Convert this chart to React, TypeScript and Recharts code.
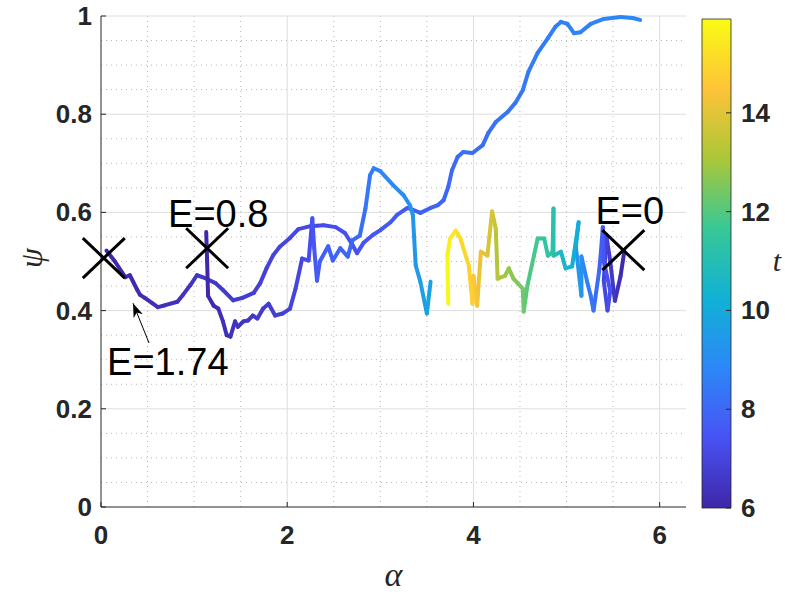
import React from 'react';
import {Bar, BarChart, ComposedChart, Label, Line, ReferenceLine, Scatter, XAxis, YAxis} from 'recharts';

const T_MIN = 6;
const T_MAX = 15.9;

// trajectory that starts at E=1.74
const alphaA = [0.06, 0.15, 0.26, 0.31, 0.39, 0.42, 0.47, 0.55, 0.61, 0.69, 0.82, 0.88, 0.96, 1.03, 1.12, 1.23, 1.31, 1.42, 1.52, 1.64, 1.71, 1.78, 1.85, 1.92, 2.03, 2.12, 2.25, 2.39, 2.52, 2.62, 2.7, 2.75, 2.82, 2.92, 3.0, 3.11, 3.18, 3.29, 3.35, 3.43, 3.54, 3.62, 3.68, 3.73, 3.77, 3.83, 3.89, 3.99, 4.1, 4.16, 4.24, 4.37, 4.45, 4.53, 4.59, 4.69, 4.8, 4.88, 4.94, 5.01, 5.08, 5.15, 5.26, 5.4, 5.58, 5.71, 5.79];
const psiA = [0.522, 0.5, 0.468, 0.472, 0.442, 0.432, 0.426, 0.415, 0.407, 0.411, 0.418, 0.432, 0.452, 0.472, 0.466, 0.456, 0.442, 0.421, 0.426, 0.436, 0.456, 0.487, 0.513, 0.53, 0.548, 0.566, 0.572, 0.574, 0.57, 0.558, 0.534, 0.517, 0.538, 0.554, 0.564, 0.58, 0.595, 0.609, 0.605, 0.599, 0.609, 0.615, 0.625, 0.652, 0.686, 0.713, 0.723, 0.721, 0.737, 0.762, 0.784, 0.805, 0.823, 0.849, 0.886, 0.925, 0.955, 0.978, 0.988, 0.984, 0.965, 0.967, 0.984, 0.994, 0.998, 0.996, 0.992];
const tA = [6.0, 6.05, 6.1, 6.12, 6.15, 6.17, 6.2, 6.25, 6.28, 6.32, 6.38, 6.42, 6.46, 6.5, 6.55, 6.6, 6.65, 6.7, 6.75, 6.8, 6.85, 6.9, 6.95, 7.0, 7.05, 7.1, 7.15, 7.2, 7.25, 7.3, 7.35, 7.4, 7.45, 7.5, 7.55, 7.6, 7.65, 7.7, 7.75, 7.8, 7.85, 7.9, 7.95, 8.0, 8.05, 8.1, 8.13, 8.17, 8.2, 8.25, 8.3, 8.35, 8.4, 8.45, 8.5, 8.55, 8.6, 8.63, 8.65, 8.67, 8.69, 8.71, 8.73, 8.76, 8.8, 8.83, 8.85];

// trajectory that starts at E=0.8
const alphaB = [1.13, 1.14, 1.15, 1.21, 1.26, 1.31, 1.35, 1.39, 1.44, 1.47, 1.53, 1.58, 1.63, 1.68, 1.74, 1.8, 1.87, 1.95, 2.03, 2.09, 2.16, 2.23, 2.27, 2.29, 2.32, 2.35, 2.44, 2.49, 2.57, 2.65, 2.7, 2.78, 2.84, 2.89, 2.93, 3.0, 3.14, 3.25, 3.32, 3.35, 3.38, 3.43, 3.5, 3.54];
const psiB = [0.56, 0.5, 0.43, 0.41, 0.404, 0.378, 0.35, 0.347, 0.378, 0.367, 0.378, 0.38, 0.39, 0.384, 0.404, 0.414, 0.39, 0.394, 0.404, 0.445, 0.506, 0.502, 0.588, 0.527, 0.461, 0.5, 0.531, 0.502, 0.527, 0.51, 0.543, 0.553, 0.608, 0.676, 0.69, 0.684, 0.655, 0.635, 0.614, 0.594, 0.492, 0.459, 0.394, 0.459];
const tB = [6.0, 6.05, 6.1, 6.15, 6.2, 6.25, 6.3, 6.35, 6.4, 6.45, 6.5, 6.55, 6.6, 6.65, 6.7, 6.75, 6.8, 6.85, 6.9, 7.0, 7.1, 7.2, 7.4, 7.5, 7.6, 7.7, 7.8, 7.85, 7.9, 7.95, 8.0, 8.1, 8.3, 8.5, 8.6, 8.7, 8.9, 9.0, 9.2, 9.3, 9.45, 9.55, 9.7, 9.8];

// trajectory that starts at E=0
const alphaC = [5.62, 5.58, 5.52, 5.5, 5.47, 5.43, 5.4, 5.44, 5.47, 5.4, 5.39, 5.37, 5.35, 5.29, 5.26, 5.22, 5.16, 5.16, 5.1, 5.13, 5.06, 4.99, 4.94, 4.86, 4.86, 4.85, 4.8, 4.76, 4.69, 4.65, 4.58, 4.54, 4.53, 4.43, 4.38, 4.34, 4.26, 4.24, 4.2, 4.15, 4.08, 4.04, 4.0, 3.99, 3.95, 3.86, 3.81, 3.75, 3.72, 3.73];
const psiC = [0.52, 0.47, 0.42, 0.45, 0.5, 0.55, 0.46, 0.4, 0.44, 0.5, 0.57, 0.52, 0.48, 0.4, 0.43, 0.46, 0.51, 0.43, 0.53, 0.58, 0.49, 0.486, 0.52, 0.512, 0.608, 0.52, 0.512, 0.547, 0.547, 0.512, 0.451, 0.398, 0.445, 0.465, 0.486, 0.471, 0.465, 0.567, 0.602, 0.512, 0.52, 0.41, 0.471, 0.414, 0.492, 0.547, 0.563, 0.547, 0.512, 0.414];
const tC = [6.0, 6.2, 6.4, 6.5, 6.6, 6.8, 7.0, 7.2, 7.3, 7.4, 7.6, 7.7, 7.9, 8.3, 8.45, 8.6, 8.9, 9.2, 9.6, 10.0, 10.3, 10.5, 10.7, 10.9, 11.1, 11.2, 11.4, 11.5, 11.7, 11.8, 12.0, 12.2, 12.4, 12.6, 12.8, 12.9, 13.1, 13.4, 13.7, 13.9, 14.1, 14.3, 14.5, 14.7, 14.9, 15.1, 15.3, 15.5, 15.7, 15.9];

const markerAlpha = [0.03, 1.14, 5.61];
const markerPsi = [0.507, 0.527, 0.523];

const noteText = ['E=0.8', 'E=0', 'E=1.74'];
const noteAlpha = [0.72, 5.31, 0.065];
const notePsi = [0.57, 0.576, 0.269];

const arrowAlpha = [0.516, 0.344];
const arrowPsi = [0.334, 0.415];

const xTicks = [0, 2, 4, 6];
const yTicks = [0, 0.2, 0.4, 0.6, 0.8, 1];
const xMinor = [0.5, 1, 1.5, 2.5, 3, 3.5, 4.5, 5, 5.5];
const yMinor = [0.05, 0.1, 0.15, 0.25, 0.3, 0.35, 0.45, 0.5, 0.55, 0.65, 0.7, 0.75, 0.85, 0.9, 0.95];
const cbTicks = [6, 8, 10, 12, 14];

const PARULA = ['#3E26A8', '#4852F4', '#2D87F7', '#11B1D6', '#37C896', '#ABC739', '#FEC338', '#F9FB15'];
const AXIS = '#262626';
const FONT = '"Liberation Sans", Arial, Helvetica, sans-serif';
const SERIF = '"Liberation Serif", "DejaVu Serif", serif';

const hex = (c: string) => [1, 3, 5].map((i) => parseInt(c.slice(i, i + 2), 16));

const parula = (t: number) => {
    const u = Math.max(0, Math.min(1, (t - T_MIN) / (T_MAX - T_MIN))) * (PARULA.length - 1);
    const i = Math.min(PARULA.length - 2, Math.floor(u));
    const f = u - i;
    const a = hex(PARULA[i]);
    const b = hex(PARULA[i + 1]);
    const m = a.map((v, k) => Math.round(v + (b[k] - v) * f));
    return `rgb(${m[0]},${m[1]},${m[2]})`;
};

const segments = (name: string, al: number[], ps: number[], ts: number[]) =>
    al.slice(1).map((_, i) => ({
        key: `${name}${i}`,
        color: parula((ts[i] + ts[i + 1]) / 2),
        data: [
            {a: al[i], p: ps[i]},
            {a: al[i + 1], p: ps[i + 1]},
        ],
    }));

const allSegments = [
    ...segments('a', alphaA, psiA, tA),
    ...segments('b', alphaB, psiB, tB),
    ...segments('c', alphaC, psiC, tC),
];

const markers = markerAlpha.map((a, i) => ({a, p: markerPsi[i]}));
const notes = noteText.map((label, i) => ({label, a: noteAlpha[i], p: notePsi[i]}));
const arrow = arrowAlpha.map((a, i) => ({a, p: arrowPsi[i]}));

const XTick = ({x, y, payload}: any) => (
    <g>
        <line x1={x} x2={x} y1={y} y2={y - 5} stroke={AXIS}/>
        <text x={x} y={y + 37} textAnchor="middle" fontFamily={FONT} fontWeight="bold" fontSize={26} fill={AXIS}>
            {payload.value}
        </text>
    </g>
);

const YTick = ({x, y, payload}: any) => (
    <g>
        <line x1={x} x2={x + 5} y1={y} y2={y} stroke={AXIS}/>
        <text x={x - 9} y={y + 9} textAnchor="end" fontFamily={FONT} fontWeight="bold" fontSize={26} fill={AXIS}>
            {payload.value}
        </text>
    </g>
);

const CbTick = ({x, y, payload}: any) => (
    <g>
        <line x1={x - 5} x2={x} y1={y} y2={y} stroke={AXIS}/>
        <text x={x + 10} y={y + 9} textAnchor="start" fontFamily={FONT} fontWeight="bold" fontSize={26} fill={AXIS}>
            {payload.value}
        </text>
    </g>
);

const XMark = ({cx, cy}: any) => (
    <g>
        <line x1={cx - 21} y1={cy - 20} x2={cx + 21} y2={cy + 20} stroke="#000" strokeWidth={3}/>
        <line x1={cx - 21} y1={cy + 20} x2={cx + 21} y2={cy - 20} stroke="#000" strokeWidth={3}/>
    </g>
);

const NoteText = ({cx, cy, payload}: any) => (
    <text x={cx} y={cy} fontFamily={FONT} fontSize={38} fill="#000">
        {payload.label}
    </text>
);

const AlphaLabel = ({viewBox}: any) => (
    <text x={viewBox.x + viewBox.width / 2} y={viewBox.y + 79} textAnchor="middle" fontFamily={SERIF}
          fontStyle="italic" fontSize={34} fill={AXIS}>
        α
    </text>
);

const PsiLabel = () => (
    <text x={0} y={0} transform="translate(42,258) rotate(-90)" textAnchor="middle" fontFamily={SERIF}
          fontStyle="italic" fontSize={32} fill={AXIS}>
        ψ
    </text>
);

const TLabel = () => (
    <text x={777} y={271} textAnchor="middle" fontFamily={SERIF} fontStyle="italic" fontSize={30} fill={AXIS}>
        t
    </text>
);

export default function App() {
    return (
        <div style={{position: 'absolute', left: 0, top: 0, width: 785, height: 595, background: '#fff'}}>
            <div style={{position: 'absolute', left: 0, top: 0}}>
                <ComposedChart width={785} height={595} margin={{top: 16, right: 99, bottom: 0, left: 0}}>
                    <defs>
                        <marker id="arrowHead" markerUnits="userSpaceOnUse" markerWidth={16} markerHeight={12}
                                refX={14} refY={5} orient="auto">
                            <path d="M0,0 L14,5 L0,10 L4,5 Z" fill="#000"/>
                        </marker>
                    </defs>
                    <XAxis dataKey="a" type="number" domain={[0, 2 * Math.PI]} ticks={xTicks}
                           height={88} tickSize={0} tickMargin={0} tick={<XTick/>} stroke={AXIS}
                           axisLine={{stroke: AXIS}}>
                        <Label content={<AlphaLabel/>}/>
                    </XAxis>
                    <YAxis dataKey="p" type="number" domain={[0, 1]} ticks={yTicks} width={101}
                           tickSize={0} tickMargin={0} tick={<YTick/>} axisLine={{stroke: AXIS}}>
                        <Label content={<PsiLabel/>}/>
                    </YAxis>
                    {xMinor.map((v) => (
                        <ReferenceLine key={`xm${v}`} x={v} stroke="#b5b5b5" strokeDasharray="1 4"/>
                    ))}
                    {yMinor.map((v) => (
                        <ReferenceLine key={`ym${v}`} y={v} stroke="#b5b5b5" strokeDasharray="1 4"/>
                    ))}
                    {xTicks.filter((v) => v > 0).map((v) => (
                        <ReferenceLine key={`xg${v}`} x={v} stroke="#dedede"/>
                    ))}
                    {yTicks.filter((v) => v > 0).map((v) => (
                        <ReferenceLine key={`yg${v}`} y={v} stroke="#dedede"/>
                    ))}
                    {allSegments.map((s) => (
                        <Line key={s.key} data={s.data} dataKey="p" type="linear" stroke={s.color} strokeWidth={4}
                              strokeLinecap="round" strokeLinejoin="round" dot={false} activeDot={false}
                              isAnimationActive={false}/>
                    ))}
                    <Line data={arrow} dataKey="p" type="linear" stroke="#000" strokeWidth={1} dot={false}
                          activeDot={false} isAnimationActive={false} markerEnd="url(#arrowHead)"/>
                    <Scatter data={markers} dataKey="p" shape={<XMark/>} isAnimationActive={false}/>
                    <Scatter data={notes} dataKey="p" shape={<NoteText/>} isAnimationActive={false}/>
                </ComposedChart>
            </div>
            <div style={{position: 'absolute', left: 0, top: 0}}>
                <BarChart width={785} height={595} data={[{k: 'cb', v: [T_MIN, T_MAX]}]}
                          margin={{top: 19, right: 0, bottom: 87, left: 702}} barCategoryGap={0}>
                    <defs>
                        <linearGradient id="parulaGrad" x1="0" y1="1" x2="0" y2="0">
                            {PARULA.map((c, i) => (
                                <stop key={c} offset={i / (PARULA.length - 1)} stopColor={c}/>
                            ))}
                        </linearGradient>
                    </defs>
                    <XAxis dataKey="k" hide/>
                    <YAxis orientation="right" type="number" domain={[T_MIN, T_MAX]} ticks={cbTicks} width={54}
                           tickSize={0} tickMargin={0} tick={<CbTick/>} axisLine={false}>
                        <Label content={<TLabel/>}/>
                    </YAxis>
                    <Bar dataKey="v" fill="url(#parulaGrad)" stroke={AXIS} strokeWidth={0.8}
                         isAnimationActive={false}/>
                </BarChart>
            </div>
        </div>
    );
}
